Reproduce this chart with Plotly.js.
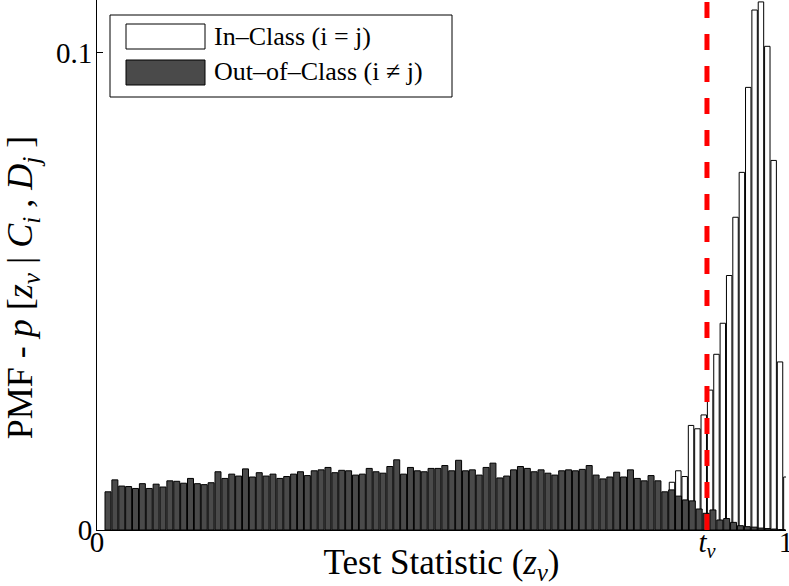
<!DOCTYPE html>
<html>
<head>
<meta charset="utf-8">
<script src="https://cdn.plot.ly/plotly-3.0.1.min.js"></script>
<style>html,body{margin:0;padding:0;background:#fff;}#chart{width:789px;height:586px;}</style>
</head>
<body>
<div id="chart"></div>
<script>
// Out-of-Class histogram (i != j): bin start and width, then PMF values
const outStart = 0.01597;
const outStep = 0.009977;
const outClass = [
  0.0080, 0.0105, 0.0092, 0.0091, 0.0087, 0.0097, 0.0087, 0.0096, 0.0090, 0.0103,
  0.0102, 0.0098, 0.0108, 0.0097, 0.0095, 0.0099, 0.0122, 0.0108, 0.0117, 0.0113,
  0.0128, 0.0111, 0.0120, 0.0113, 0.0117, 0.0108, 0.0112, 0.0117, 0.0122, 0.0114,
  0.0124, 0.0126, 0.0131, 0.0120, 0.0125, 0.0124, 0.0115, 0.0117, 0.0129, 0.0122,
  0.0119, 0.0133, 0.0147, 0.0117, 0.0131, 0.0124, 0.0122, 0.0129, 0.0129, 0.0135,
  0.0124, 0.0146, 0.0124, 0.0126, 0.0115, 0.0131, 0.0140, 0.0109, 0.0113, 0.0126,
  0.0133, 0.0129, 0.0122, 0.0126, 0.0119, 0.0115, 0.0124, 0.0126, 0.0124, 0.0127,
  0.0135, 0.0115, 0.0107, 0.0111, 0.0121, 0.0111, 0.0126, 0.0108, 0.0103, 0.0114,
  0.0103, 0.0080, 0.0084, 0.0071, 0.0063, 0.0061, 0.0044, 0.0035, 0.0042, 0.0021,
  0.0024, 0.0016, 0.0009, 0.0007, 0.0006, 0.0004, 0.0003, 0.0002, 0.0001
];
// In-Class histogram (i = j)
const inStart = 0.8345;
const inStep = 0.009225;
const inClass = [
  0.0100, 0.0124, 0.0112, 0.0219, 0.0212, 0.0241, 0.0293, 0.0368, 0.0433, 0.0533,
  0.0655, 0.0749, 0.0927, 0.1089, 0.1106, 0.1013, 0.0774, 0.0352, 0.0111
];
// threshold t_v
const tv = 0.8853;
const xTickVals = [0, tv, 1];
const xTickText = ['0', '<i>t</i><sub><i>v</i></sub>', '1'];
const yTickVals = [0, 0.1];
const yTickText = ['0', '0.1'];
const legendLabels = ['In\u2013Class (i = j)', 'Out\u2013of\u2013Class (i \u2260 j)'];

const serif = 'Liberation Serif, Times New Roman, serif';
const darkFill = '#4a4a4a';

const traces = [
  {
    type: 'bar', name: legendLabels[0], x0: inStart, dx: inStep, y: inClass,
    width: 0.0079,
    marker: {color: '#ffffff', opacity: 1, line: {color: '#000000', width: 1}},
    hoverinfo: 'skip'
  },
  {
    type: 'bar', name: legendLabels[1], x0: outStart, dx: outStep, y: outClass,
    width: 0.0087,
    marker: {color: darkFill, opacity: 1, line: {color: '#000000', width: 1}},
    hoverinfo: 'skip'
  }
];

// paper-coordinate helpers for the hand-drawn legend (pixel -> paper)
const L = 97, R = 3, T = 0, B = 56, W = 789, H = 586;
const pw = W - L - R, ph = H - T - B;
const px = v => (v - L) / pw;
const py = v => (H - B - v) / ph;

const NB = '\u00a0';
const yTitle = 'PMF - <i>p</i> [<i>z</i><sub><i>v</i></sub> | <i>C</i><sub><i>i</i></sub> , <i>D</i><sub><i>j</i></sub> ]<span>' + NB.repeat(5) + '</span>';

const layout = {
  width: W, height: H,
  margin: {l: L, r: R, t: T, b: B, pad: 0},
  paper_bgcolor: '#ffffff', plot_bgcolor: '#ffffff',
  barmode: 'overlay',
  showlegend: false,
  font: {family: serif, size: 24, color: '#000000'},
  xaxis: {
    range: [0, 1], showgrid: false, zeroline: false,
    showline: true, linecolor: '#000000', linewidth: 1,
    ticks: 'inside', ticklen: 6, tickcolor: '#000000',
    tickvals: xTickVals, ticktext: xTickText,
    tickfont: {family: serif, size: 29, color: '#000000'},
    ticklabeloverflow: 'allow',
    ticklabelstandoff: -14,
    title: {text: 'Test Statistic (<i>z</i><sub><i>v</i></sub>)', font: {family: serif, size: 35}, standoff: 4},
    automargin: false
  },
  yaxis: {
    range: [0, 0.111], showgrid: false, zeroline: false,
    showline: true, linecolor: '#000000', linewidth: 1,
    ticks: 'inside', ticklen: 6, tickcolor: '#000000',
    tickvals: yTickVals, ticktext: yTickText,
    tickfont: {family: serif, size: 29, color: '#000000'},
    ticklabelstandoff: -2,
    title: {text: yTitle, font: {family: serif, size: 36}, standoff: 12},
    automargin: false
  },
  shapes: [
    {type: 'line', xref: 'x', yref: 'paper', x0: tv, x1: tv, y0: 0, y1: 1,
     line: {color: '#ff0000', width: 5, dash: '16px,16px'}},
    {type: 'rect', xref: 'paper', yref: 'paper', x0: px(110), x1: px(452), y0: py(97), y1: py(15),
     fillcolor: '#ffffff', line: {color: '#000000', width: 1}},
    {type: 'rect', xref: 'paper', yref: 'paper', x0: px(126), x1: px(205), y0: py(49), y1: py(24),
     fillcolor: '#ffffff', line: {color: '#000000', width: 1}},
    {type: 'rect', xref: 'paper', yref: 'paper', x0: px(126), x1: px(205), y0: py(85), y1: py(60),
     fillcolor: darkFill, line: {color: '#000000', width: 1}}
  ],
  annotations: [
    {xref: 'paper', yref: 'paper', x: px(212), y: py(37), xanchor: 'left', yanchor: 'middle',
     text: legendLabels[0], showarrow: false, font: {family: serif, size: 26, color: '#000000'}},
    {xref: 'paper', yref: 'paper', x: px(212), y: py(72), xanchor: 'left', yanchor: 'middle',
     text: legendLabels[1], showarrow: false, font: {family: serif, size: 26, color: '#000000'}}
  ]
};

Plotly.newPlot('chart', traces, layout, {staticPlot: true, displayModeBar: false});
</script>
</body>
</html>
